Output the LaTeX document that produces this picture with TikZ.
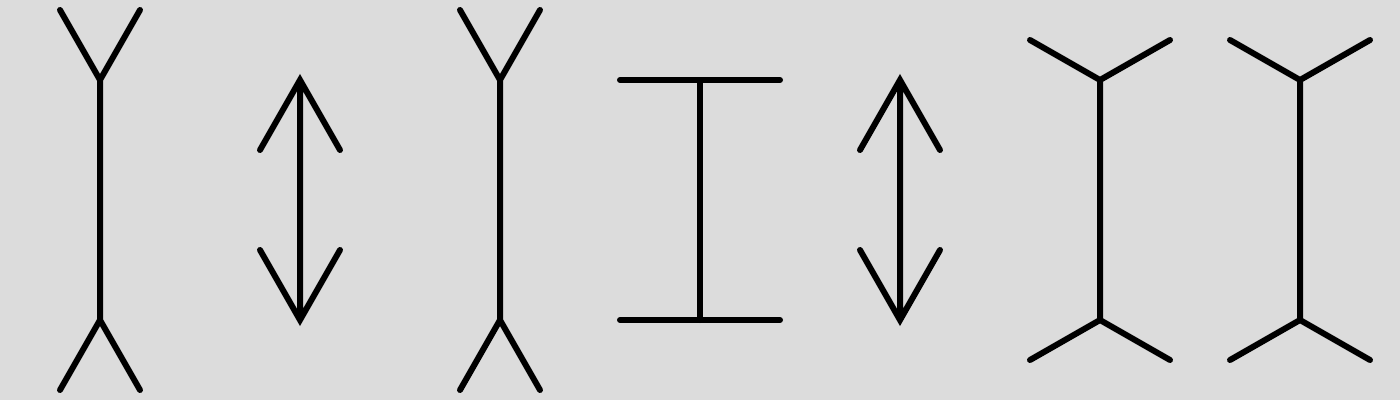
\documentclass[tikz,border=0pt]{standalone}
\definecolor{bggray}{RGB}{220,220,220}
\begin{document}
\begin{tikzpicture}[x=0.02cm,y=-0.02cm,
  fig/.style={line width=0.12cm,line cap=round}]
\fill[bggray] (0,0) rectangle (1400,400);
\useasboundingbox (0,0) rectangle (1400,400);
% fins outward, left
\path (100,80) coordinate(a1)
(100,320) coordinate(a2);
\draw[fig] (60,10) -- (a1) -- (140,10)
(a1) -- (a2)
(60,390) -- (a2) -- (140,390);
% double arrow, left
\path (300,80) coordinate(b1)
(300,320) coordinate(b2);
\draw[fig] (260,150) -- (b1) -- (340,150)
(b1) -- (b2)
(260,250) -- (b2) -- (340,250);
% fins outward, middle
\path (500,80) coordinate(c1)
(500,320) coordinate(c2);
\draw[fig] (460,10) -- (c1) -- (540,10)
(c1) -- (c2)
(460,390) -- (c2) -- (540,390);
% plain bars
\path (700,80) coordinate(d1)
(700,320) coordinate(d2);
\draw[fig] (620,80) -- (780,80)
(d1) -- (d2)
(620,320) -- (780,320);
% double arrow, right
\path (900,80) coordinate(e1)
(900,320) coordinate(e2);
\draw[fig] (860,150) -- (e1) -- (940,150)
(e1) -- (e2)
(860,250) -- (e2) -- (940,250);
% wide fins
\path (1100,80) coordinate(f1)
(1100,320) coordinate(f2);
\draw[fig] (1030,40) -- (f1) -- (1170,40)
(f1) -- (f2)
(1030,360) -- (f2) -- (1170,360);
\path (1300,80) coordinate(g1)
(1300,320) coordinate(g2);
\draw[fig] (1230,40) -- (g1) -- (1370,40)
(g1) -- (g2)
(1230,360) -- (g2) -- (1370,360);
\end{tikzpicture}
\end{document}
